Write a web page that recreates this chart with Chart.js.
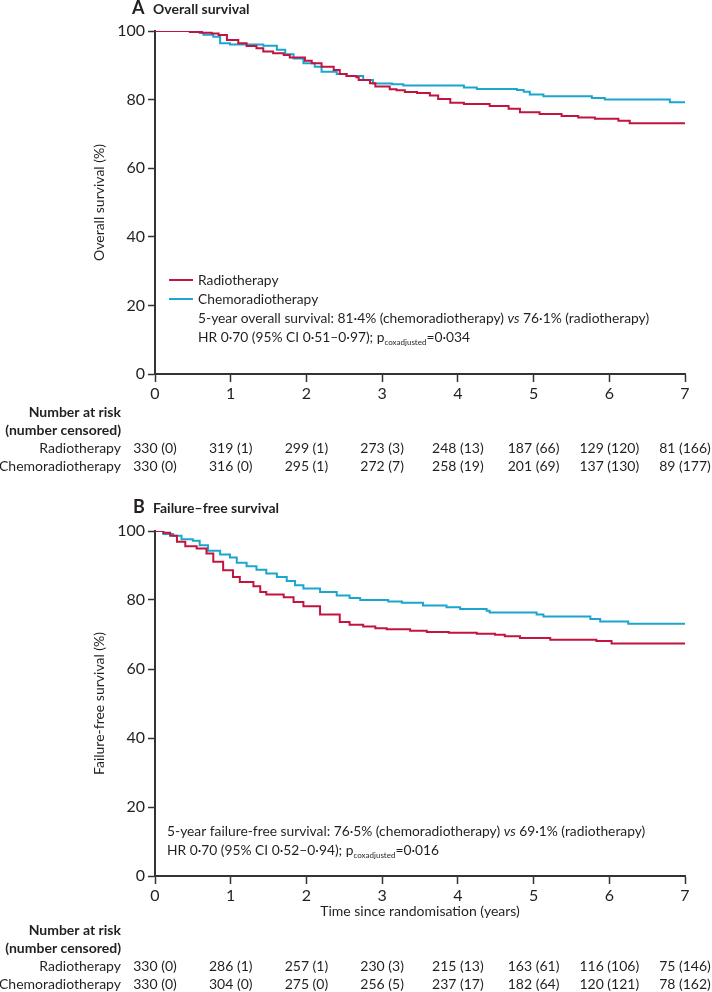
<!DOCTYPE html>
<html>
<head>
<meta charset="utf-8">
<script src="https://cdn.jsdelivr.net/npm/chart.js@4.4.1/dist/chart.umd.min.js"></script>
<style>
  html, body { margin: 0; padding: 0; background: #fff; }
  #wrap { position: relative; width: 712px; height: 992px; }
  .panel { position: absolute; left: 0; width: 712px; }
  #panelA { top: 0; height: 490px; }
  #panelB { top: 490px; height: 502px; }
</style>
</head>
<body>
<div id="wrap">
  <div class="panel" id="panelA"><canvas id="chartA"></canvas></div>
  <div class="panel" id="panelB"><canvas id="chartB"></canvas></div>
</div>
<script>
// ---- data ----
const years = [0, 1, 2, 3, 4, 5, 6, 7];
const yTicks = [0, 20, 40, 60, 80, 100];

// A: overall survival (time in years, survival %)
const osRadioTime = [0, 0.46, 0.62, 0.75, 0.84, 0.95, 1.10, 1.21, 1.34, 1.43, 1.56, 1.70, 1.78, 1.98, 2.07, 2.20, 2.36, 2.44, 2.53, 2.66, 2.69, 2.84, 2.91, 3.10, 3.19, 3.30, 3.46, 3.63, 3.74, 3.90, 4.08, 4.42, 4.67, 4.82, 5.08, 5.37, 5.59, 5.81, 6.12, 6.27, 7.00];
const osRadioSurv = [100, 99.7, 99.5, 99.3, 98.8, 97.4, 96.4, 95.6, 95.0, 94.0, 93.5, 93.0, 92.3, 91.3, 90.6, 89.6, 88.6, 87.5, 86.9, 86.5, 85.7, 84.8, 83.8, 83.0, 82.7, 82.2, 81.9, 81.2, 80.2, 79.1, 78.7, 78.1, 77.3, 76.3, 75.8, 75.2, 74.8, 74.4, 73.8, 73.1, 73.1];
const osChemoTime = [0, 0.48, 0.59, 0.64, 0.77, 0.86, 0.99, 1.43, 1.61, 1.72, 1.83, 1.96, 2.11, 2.20, 2.40, 2.53, 2.75, 2.88, 3.13, 3.28, 4.08, 4.25, 4.78, 4.87, 4.95, 5.13, 5.77, 5.94, 6.80, 7.00];
const osChemoSurv = [100, 99.7, 99.4, 98.9, 98.3, 96.4, 96.1, 95.7, 94.5, 93.2, 92.0, 90.6, 89.6, 88.1, 87.5, 86.9, 85.7, 84.7, 84.5, 84.1, 83.5, 83.1, 82.8, 82.3, 81.5, 81.0, 80.5, 80.0, 79.2, 79.2];

// B: failure-free survival
const ffsRadioTime = [0, 0.11, 0.20, 0.29, 0.40, 0.55, 0.68, 0.77, 0.90, 1.03, 1.12, 1.30, 1.39, 1.47, 1.70, 1.83, 1.96, 2.18, 2.44, 2.57, 2.75, 2.91, 3.06, 3.37, 3.59, 3.88, 4.25, 4.49, 4.62, 4.82, 5.22, 5.83, 6.03, 7.00];
const ffsRadioSurv = [100, 99.5, 98.6, 96.9, 95.6, 94.9, 93.5, 91.1, 88.6, 86.7, 85.2, 84.0, 82.3, 81.6, 80.8, 79.4, 78.2, 75.8, 73.6, 72.8, 72.3, 71.8, 71.5, 71.1, 70.7, 70.5, 70.2, 69.9, 69.5, 69.0, 68.5, 68.1, 67.4, 67.4];
const ffsChemoTime = [0, 0.11, 0.24, 0.35, 0.50, 0.59, 0.70, 0.86, 0.99, 1.08, 1.21, 1.34, 1.47, 1.61, 1.74, 1.85, 1.96, 2.18, 2.40, 2.57, 2.71, 3.08, 3.26, 3.54, 3.85, 4.03, 4.38, 4.42, 5.04, 5.13, 5.75, 5.88, 6.25, 7.00];
const ffsChemoSurv = [100, 99.1, 98.6, 97.6, 97.2, 95.9, 94.3, 93.2, 92.3, 90.8, 89.8, 88.8, 87.7, 86.7, 85.5, 84.3, 83.3, 82.3, 81.3, 80.6, 80.0, 79.6, 79.2, 78.4, 77.9, 77.4, 76.9, 76.4, 75.8, 75.2, 74.5, 73.8, 73.1, 73.1];

// number at risk (number censored)
const osRiskRadio = [330, 319, 299, 273, 248, 187, 129, 81];
const osCensRadio = [0, 1, 1, 3, 13, 66, 120, 166];
const osRiskChemo = [330, 316, 295, 272, 258, 201, 137, 89];
const osCensChemo = [0, 0, 1, 7, 19, 69, 130, 177];
const ffsRiskRadio = [330, 286, 257, 230, 215, 163, 116, 75];
const ffsCensRadio = [0, 1, 1, 3, 13, 61, 106, 146];
const ffsRiskChemo = [330, 304, 275, 256, 237, 182, 120, 78];
const ffsCensChemo = [0, 0, 0, 5, 17, 64, 121, 162];

const seriesNames = ['Radiotherapy', 'Chemoradiotherapy'];

// ---- styling ----
const RED = '#c2143f';
const BLUE = '#1ba6cf';
const INK = '#231f20';
const AXIS = '#333333';
const FAM = 'Lato, "Open Sans", sans-serif';

function pts(t, s) {
    return t.map((x, i) => ({ x: x, y: s[i] }));
}

// draw a line made of text runs (font, text, dy)
function drawRuns(ctx, x, y, runs) {
    ctx.textAlign = 'left';
    ctx.textBaseline = 'alphabetic';
    runs.forEach(r => {
        ctx.font = r.font;
        ctx.fillText(r.text, x, y + (r.dy || 0));
        x += ctx.measureText(r.text).width;
    });
}

const decorPlugin = {
    id: 'decor',
    afterDraw(chart, args, o) {
        const ctx = chart.ctx;
        const xs = chart.scales.x;
        ctx.save();
        ctx.fillStyle = INK;

        // panel letter + title
        drawRuns(ctx, o.letterX, o.titleY, [
            { font: 'bold 18px ' + FAM, text: o.letter }
        ]);
        drawRuns(ctx, 153, o.titleY, [
            { font: 'bold 14px ' + FAM, text: o.title }
        ]);

        // legend
        if (o.legendY) {
            [RED, BLUE].forEach((c, i) => {
                const y = o.legendY + i * 19;
                ctx.strokeStyle = c;
                ctx.lineWidth = 2;
                ctx.beginPath();
                ctx.moveTo(169, y);
                ctx.lineTo(193, y);
                ctx.stroke();
                ctx.fillStyle = INK;
                drawRuns(ctx, 198, y + 5, [{ font: '13.8px ' + FAM, text: seriesNames[i] }]);
            });
        }

        // annotation text
        const reg = '13.8px ' + FAM;
        drawRuns(ctx, o.noteX, o.noteY, [
            { font: reg, text: o.note1a },
            { font: 'italic 13.8px ' + FAM, text: 'vs' },
            { font: reg, text: o.note1b }
        ]);
        drawRuns(ctx, o.noteX, o.noteY + 19, [
            { font: reg, text: o.note2a },
            { font: '8px ' + FAM, text: 'coxadjusted', dy: 3 },
            { font: reg, text: o.note2b }
        ]);

        // number at risk table
        const ty = o.tableY;
        const gap = 18.3;
        ctx.textBaseline = 'middle';
        ctx.textAlign = 'right';
        ctx.font = 'bold 14px ' + FAM;
        ctx.fillText('Number at risk', 121, ty);
        ctx.fillText('(number censored)', 121, ty + gap);
        ctx.font = '14px ' + FAM;
        ctx.fillText(seriesNames[0], 121, ty + 2 * gap);
        ctx.fillText(seriesNames[1], 121, ty + 3 * gap);
        ctx.textAlign = 'center';
        years.forEach((yr, i) => {
            const px = xs.getPixelForValue(yr);
            ctx.fillText(o.riskA[i] + ' (' + o.censA[i] + ')', px, ty + 2 * gap);
            ctx.fillText(o.riskB[i] + ' (' + o.censB[i] + ')', px, ty + 3 * gap);
        });
        ctx.restore();
    }
};

function makeChart(id, cfg) {
    return new Chart(document.getElementById(id), {
        type: 'line',
        data: {
            datasets: [
                { label: seriesNames[0], data: pts(cfg.t1, cfg.s1), borderColor: RED },
                { label: seriesNames[1], data: pts(cfg.t2, cfg.s2), borderColor: BLUE }
            ]
        },
        options: {
            responsive: true,
            maintainAspectRatio: false,
            animation: false,
            parsing: false,
            datasets: {
                line: { stepped: true, borderWidth: 2, pointRadius: 0, fill: false }
            },
            layout: { padding: { left: 91, top: cfg.top, right: 27, bottom: cfg.bottom } },
            plugins: {
                legend: { display: false },
                tooltip: { enabled: false },
                decor: cfg.decor
            },
            scales: {
                x: {
                    type: 'linear', min: 0, max: 7,
                    afterBuildTicks: s => { s.ticks = years.map(v => ({ value: v })); },
                    ticks: { color: INK, font: { family: FAM, size: 16 }, padding: 2, maxRotation: 0 },
                    grid: { drawOnChartArea: false, drawTicks: true, tickLength: 8, tickColor: AXIS, tickWidth: 1.5 },
                    border: { display: true, color: AXIS, width: 2 },
                    title: {
                        display: !!cfg.xTitle, text: cfg.xTitle || '',
                        color: INK, font: { family: FAM, size: 14 }, padding: 0
                    },
                    afterFit: s => { s.height = cfg.xHeight; }
                },
                y: {
                    min: 0, max: 100,
                    afterBuildTicks: s => { s.ticks = yTicks.map(v => ({ value: v })); },
                    ticks: { color: INK, font: { family: FAM, size: 16 }, padding: 3 },
                    grid: { drawOnChartArea: false, drawTicks: true, tickLength: 7, tickColor: AXIS, tickWidth: 1.5 },
                    border: { display: true, color: AXIS, width: 2 },
                    title: {
                        display: true, text: cfg.yTitle,
                        color: INK, font: { family: FAM, size: 14 }, padding: 0
                    },
                    afterFit: s => { s.width = 64; }
                }
            }
        },
        plugins: [decorPlugin]
    });
}

makeChart('chartA', {
    t1: osRadioTime, s1: osRadioSurv, t2: osChemoTime, s2: osChemoSurv,
    top: 31, bottom: 86, xHeight: 30,
    yTitle: 'Overall survival (%)',
    decor: {
        letter: 'A', letterX: 132, titleY: 14, title: 'Overall survival',
        legendY: 280,
        noteX: 198, noteY: 323,
        note1a: '5-year overall survival: 81\u00b74% (chemoradiotherapy) ',
        note1b: ' 76\u00b71% (radiotherapy)',
        note2a: 'HR 0\u00b770 (95% CI 0\u00b751\u20130\u00b797); p',
        note2b: '=0\u00b7034',
        tableY: 412,
        riskA: osRiskRadio, censA: osCensRadio, riskB: osRiskChemo, censB: osCensChemo
    }
});

makeChart('chartB', {
    t1: ffsRadioTime, s1: ffsRadioSurv, t2: ffsChemoTime, s2: ffsChemoSurv,
    top: 41, bottom: 72, xHeight: 44,
    xTitle: 'Time since randomisation (years)',
    yTitle: 'Failure-free survival (%)',
    decor: {
        letter: 'B', letterX: 133, titleY: 23, title: 'Failure\u2013free survival',
        legendY: 0,
        noteX: 167, noteY: 346,
        note1a: '5-year failure-free survival: 76\u00b75% (chemoradiotherapy) ',
        note1b: ' 69\u00b71% (radiotherapy)',
        note2a: 'HR 0\u00b770 (95% CI 0\u00b752\u20130\u00b794); p',
        note2b: '=0\u00b7016',
        tableY: 440,
        riskA: ffsRiskRadio, censA: ffsCensRadio, riskB: ffsRiskChemo, censB: ffsCensChemo
    }
});
</script>
</body>
</html>
